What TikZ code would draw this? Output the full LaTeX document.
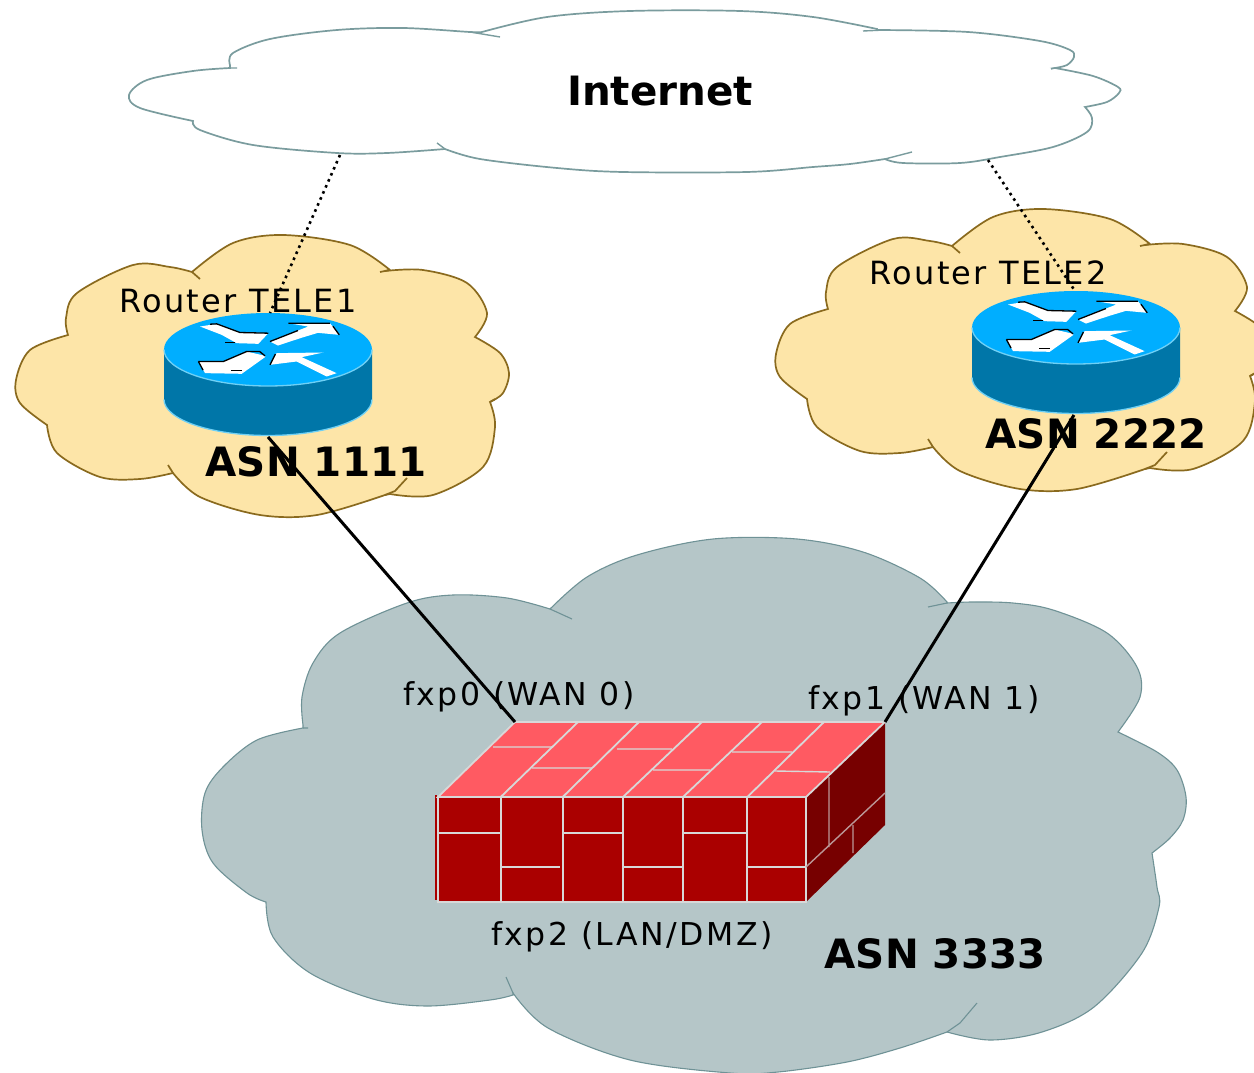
\documentclass[tikz,border=0pt]{standalone}
\usepackage{fontspec}
\setmainfont{DejaVu Sans}
\definecolor{sand}{HTML}{FDE5A8}
\definecolor{sandline}{HTML}{8A6A1E}
\definecolor{slate}{HTML}{B5C6C8}
\definecolor{slateline}{HTML}{6F9296}
\definecolor{netline}{HTML}{7A9C9E}
\definecolor{rtop}{HTML}{00AEFF}
\definecolor{rside}{HTML}{0076A8}
\definecolor{redge}{HTML}{6FD0F5}
\definecolor{brickfront}{HTML}{AA0000}
\definecolor{bricktop}{HTML}{FF5A62}
\definecolor{brickside}{HTML}{770000}
\definecolor{mortar}{HTML}{D8D8D8}
\tikzset{
  boldlabel/.style={anchor=base,font=\bfseries\fontsize{40.4}{40}\selectfont,text=black,inner sep=0pt},
  plainlabel/.style={anchor=base,font=\fontsize{31.5}{36}\selectfont\addfontfeatures{LetterSpace=8},text=black,inner sep=0pt},
  routerlabel/.style={anchor=base,font=\fontsize{32}{36}\selectfont\addfontfeatures{LetterSpace=7},text=black,inner sep=0pt},
  netcloud/.style={fill=white,draw=netline,line width=1.7pt},
  asncloud/.style={fill=sand,draw=sandline,line width=1.7pt},
  corecloud/.style={fill=slate,draw=slateline,line width=1.1pt},
  brick/.style={draw=mortar,line width=1.8pt},
  uplink/.style={draw=black,line width=3pt},
  dotlink/.style={draw=black,line width=2.6pt,dash pattern=on 2.6pt off 4pt},
  lobe/.style={smooth,tension=0.55}
}
\newcommand{\asncloudshape}{%
  plot[lobe] coordinates {(68,335) (66,318) (77,293) (133,265) (170,267) (192,272)} --
  plot[lobe] coordinates {(192,272) (233,243) (283,235) (350,245) (390,270)} --
  plot[lobe] coordinates {(385,271) (423,270) (467,283) (487,313) (475,337)} --
  plot[lobe] coordinates {(475,337) (500,353) (509,373) (503,393) (490,402)} --
  plot[lobe] coordinates {(490,402) (495,427) (483,467) (433,495) (390,494)} --
  plot[lobe] coordinates {(385,495) (317,515) (260,515) (200,497) (173,473)} --
  plot[lobe] coordinates {(173,473) (140,479) (100,477) (57,453) (47,425)} --
  plot[lobe] coordinates {(47,425) (20,403) (16,380) (30,350) (68,335)} -- cycle}
\newcommand{\asntails}{%
  (385,495) -- (395,491) -- (407,478)
  (192,272) -- (200,279)
  (390,270) -- (380,272)
  (173,473) -- (168,465)
  (490,402) -- (495,399)}
\newcommand{\routerbody}{%
  \fill[rside] (-104,0) -- (-104,50) arc[start angle=180,end angle=0,x radius=104,y radius=36]
     -- (104,0) -- cycle;
  \draw[redge,line width=1.3pt] (-104,50) arc[start angle=180,end angle=0,x radius=104,y radius=36];
  \fill[rtop] (0,0) ellipse[x radius=104,y radius=36.5];
  \draw[redge,line width=1.3pt] (-104,0) arc[start angle=180,end angle=0,x radius=104,y radius=36.5];
  \begin{scope}[x=0.333pt,y=-0.333pt]
    \fill[white] (-204,-69) -- (-154,-77) -- (-84,-51) -- (1,-49) -- (-29,-17) -- (-94,-19) -- (-139,-44) -- cycle;
    \fill[white] (6,-24) -- (121,-69) -- (61,-79) -- (186,-79) -- (214,-44) -- (150,-50) -- (100,-35) -- (30,-12) -- cycle;
    \fill[white] (-9,19) -- (-64,6) -- (-134,36) -- (-209,36) -- (-189,71) -- (-79,73) -- (-9,23) -- cycle;
    \fill[white] (6,46) -- (26,11) -- (166,9) -- (101,23) -- (206,71) -- (176,81) -- (86,36) -- cycle;
    \draw[black,line width=1.3pt] (-174,-76) -- (-154,-77) -- (-84,-51) -- (1,-49);
    \draw[black,line width=1.3pt] (-129,-20) -- (-100,-20);
    \draw[black,line width=1.3pt] (6,-24) -- (90,-57);
    \draw[black,line width=1.3pt] (61,-79) -- (186,-79) (195,-70) -- (214,-44);
    \draw[black,line width=1.3pt] (-209,36) -- (-134,36) -- (-64,6) -- (-25,6) -- (-9,19);
    \draw[black,line width=1.3pt] (-209,36) -- (-195,62);
    \draw[black,line width=1.3pt] (-110,63) -- (-79,63);
    \draw[black,line width=1.3pt] (6,46) -- (22,14);
  \end{scope}
}
\begin{document}
\begin{tikzpicture}[x=1pt,y=-1pt]
\useasboundingbox (0,0) rectangle (1254,1073);
\fill[white] (0,0) rectangle (1254,1073);

% Internet cloud
\path[netcloud]
  plot[lobe] coordinates {(230,65) (233,53) (270,39) (337,30) (403,28) (470,32) (482,32)} --
  plot[lobe] coordinates {(482,32) (547,17) (630,11) (740,11) (813,17) (877,29)} --
  plot[lobe] coordinates {(877,30) (968,32) (1040,41) (1070,50) (1074,57) (1067,65) (1055,68)} --
  plot[lobe] coordinates {(1055,68) (1093,76) (1118,87) (1119,93) (1107,102) (1085,107)} --
  plot[lobe] coordinates {(1085,107) (1092,118) (1087,132) (1053,147) (1000,157) (960,163) (903,163) (885,159)} --
  plot[lobe] coordinates {(885,159) (850,164) (813,167) (747,172) (623,172) (557,168) (480,159) (445,149)} --
  plot[lobe] coordinates {(445,149) (387,153) (337,153) (253,145) (200,130) (193,121)} --
  plot[lobe] coordinates {(193,121) (140,108) (129,95) (147,80) (193,71) (230,68)} -- (230,65);
\draw[netcloud,fill=none,line width=1.4pt] (470,32) -- (500,37) (863,31) -- (885,30) (1055,68) -- (1051,69) (885,159) -- (912,152) (445,149) -- (437,143) (230,68) -- (237,68);

% ASN clouds
\path[asncloud] \asncloudshape;
\draw[asncloud,fill=none] \asntails;
\begin{scope}[shift={(760,-26)}]
  \path[asncloud] \asncloudshape;
  \draw[asncloud,fill=none] \asntails;
\end{scope}

% Core cloud
\path[corecloud]
  plot[lobe] coordinates {(303,725) (302,697) (313,663) (340,633) (407,603) (453,595) (507,598) (550,609)} --
  plot[lobe] coordinates {(550,609) (587,577) (637,555) (713,539) (797,539) (863,552) (920,578) (947,602)} --
  plot[lobe] coordinates {(947,603) (973,602) (1013,603) (1053,610) (1107,633) (1137,667) (1140,697) (1118,732)} --
  plot[lobe] coordinates {(1118,732) (1157,752) (1177,770) (1186,797) (1183,820) (1170,838) (1152,853)} --
  plot[lobe] coordinates {(1152,853) (1157,887) (1159,907) (1142,953) (1094,1007) (1042,1032) (990,1040) (947,1032)} --
  plot[lobe] coordinates {(947,1032) (900,1048) (847,1062) (778,1072) (730,1073) (630,1060) (548,1028) (513,993)} --
  plot[lobe] coordinates {(513,995) (490,1000) (427,1006) (373,999) (310,973) (273,937) (266,902)} --
  plot[lobe] coordinates {(266,902) (247,893) (213,863) (202,830) (205,793) (223,767) (257,740) (303,728)} -- cycle;
\draw[corecloud,fill=none] (550,609) -- (572,619) (947,603) -- (928,607) (513,993) -- (506,977) (947,1032) -- (960,1023) -- (977,1003) (303,728) -- (308,728);

% Routers
\coordinate (r1) at (268,349.5);
\coordinate (r2) at (1076,327.5);
\begin{scope}[shift={(r1)}]\routerbody\end{scope}
\begin{scope}[shift={(r2)}]\routerbody\end{scope}

% Firewall
\fill[bricktop] (515,722) -- (885,722) -- (806,797) -- (438,797) -- cycle;
\fill[brickfront] (438,797) rectangle (806,902);
\fill[brickside] (885,722) -- (885,825) -- (806,902) -- (806,797) -- cycle;
\draw[brickfront,line width=1.5pt] (436,795) -- (436,900);
\draw[brick] (515,722) -- (885,722) -- (806,797) -- (438,797) -- cycle;
\draw[brick] (438,797) -- (438,902) -- (806,902) -- (806,797);
\draw[brick] (500.7,797) -- (500.7,902) (562.7,797) -- (562.7,902) (622.7,797) -- (622.7,902) (682.7,797) -- (682.7,902) (747.3,797) -- (747.3,902);
\draw[brick,line width=1.4pt] (438,833) -- (500.7,833) (500.7,867) -- (560,867) (562.7,833) -- (622.7,833) (622.7,867) -- (682.7,867) (682.7,833) -- (747.3,833) (747.3,867) -- (806,867);
\draw[brick] (500.7,797) -- (578,722) (562.7,797) -- (639,722) (623,797) -- (702,722) (683,797) -- (762,722) (747.3,797) -- (824,722);
\draw[brick,line width=1.4pt] (493,747) -- (553,747) (532,768) -- (592,768) (617,749) -- (672,749) (653,770) -- (710,770) (732,752) -- (792,752) (775,771) -- (830,772);
\draw[draw=mortar!70!brickside,line width=1.4pt] (806,867) -- (885,793) (829,777) -- (829,847) (853,825) -- (853,853);

% Labels
\node[boldlabel] (inet) at (660,106) {Internet};
\node[routerlabel] (l1) at (238,312) {Router TELE1};
\node[routerlabel] (l2) at (988,284) {Router TELE2};
\node[boldlabel] (a1) at (316,476) {ASN 1111};
\node[boldlabel] (a2) at (1096,448) {ASN 2222};
\node[boldlabel] (a3) at (935,968) {ASN 3333};
\node[plainlabel] (f0) at (519,705) {fxp0 (WAN 0)};
\node[plainlabel] (f1) at (924,709) {fxp1 (WAN 1)};
\node[plainlabel] (f2) at (632,945) {fxp2 (LAN/DMZ)};

% Connectors
\coordinate (n1) at (340,155);
\coordinate (n2) at (988,160);
\coordinate (rt1) at (270,313);
\coordinate (rt2) at (1075,291);
\coordinate (rb1) at (268,437);
\coordinate (rb2) at (1074,415);
\coordinate (w0) at (515,722);
\coordinate (w1) at (885,722);
\draw[dotlink] (n1) -- (rt1);
\draw[dotlink] (n2) -- (rt2);
\draw[uplink] (rb1) -- (w0);
\draw[uplink] (rb2) -- (w1);
\end{tikzpicture}
\end{document}
